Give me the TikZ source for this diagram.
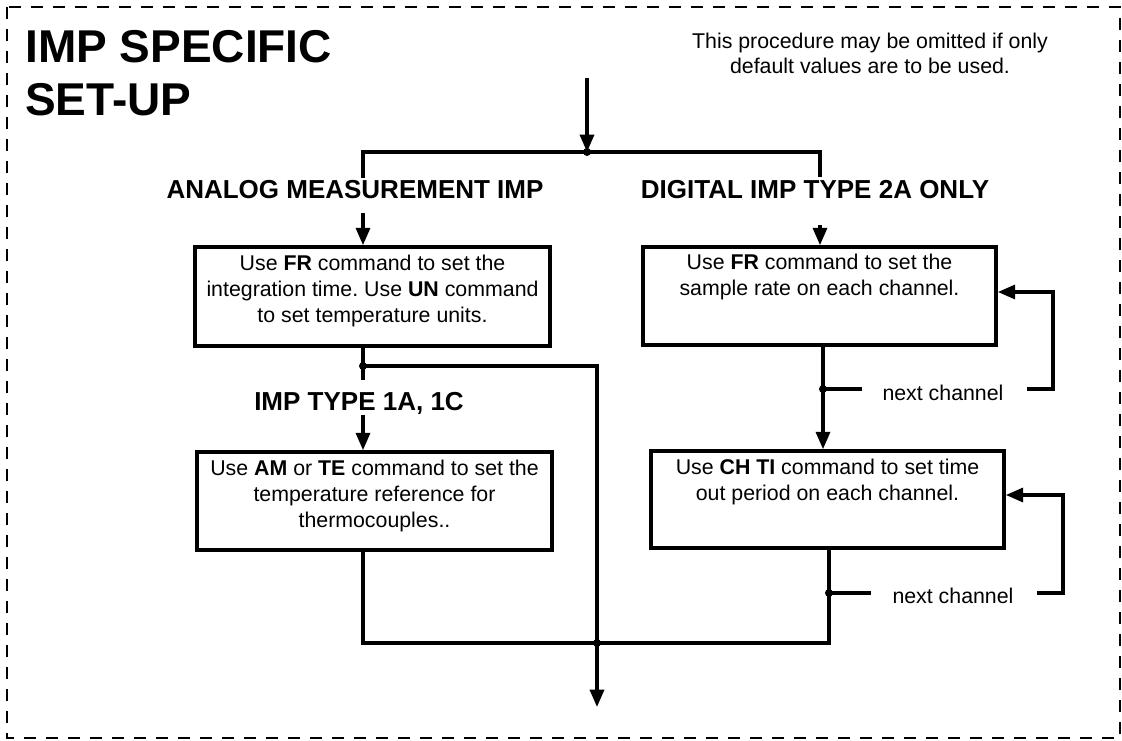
\documentclass[tikz,border=0pt]{standalone}
\usepackage{fontspec}
\setmainfont{Liberation Sans}
\usetikzlibrary{arrows.meta}
\frenchspacing
\begin{document}
\begin{tikzpicture}[x=0.75pt,y=-0.75pt,
  box/.style={draw, line width=2.7pt, inner sep=0pt},
  boxtext/.style={anchor=north, inner sep=0pt, align=center, font=\fontsize{16}{19.5}\selectfont},
  lbl/.style={anchor=base, inner sep=0pt, font=\fontsize{19.5}{23}\selectfont\bfseries},
  conn/.style={line width=2.5pt},
  arr/.style={line width=2.5pt, -{Triangle[length=13pt,width=10.5pt]}},
  dot/.style={circle, fill, inner sep=0pt, minimum size=6pt},
  nc/.style={anchor=base, inner sep=0pt, font=\fontsize{16}{19.5}\selectfont},
  border/.style={line width=2.2pt, dash pattern=on 9pt off 7.5pt}
]
\useasboundingbox (0,0) rectangle (1122,740);
\draw[border] (7,7) rectangle (1120,738);

% title and note
\node[anchor=north west, inner sep=0pt, align=left, font=\fontsize{34.5}{39.75}\selectfont\bfseries] (title) at (25,24.9) {\strut IMP SPECIFIC\\SET-UP};
\node[anchor=north, inner sep=0pt, align=center, font=\fontsize{16}{18.75}\selectfont] (note) at (870,30.5) {\strut This procedure may be omitted if only\\default values are to be used.};

% boxes
\node[box, minimum width=266.25pt, minimum height=74.25pt] (b1l) at (372.5,296.5) {};
\node[boxtext] (t1l) at (372.5,251.8) {\strut Use \textbf{FR} command to set the\\integration time. Use \textbf{UN} command\\to set temperature units.};
\node[box, minimum width=266.25pt, minimum height=73.5pt] (b2l) at (374.5,501) {};
\node[boxtext] (t2l) at (374.5,456.8) {\strut Use \textbf{AM} or \textbf{TE} command to set the\\temperature reference for\\thermocouples..};
\node[box, minimum width=264.75pt, minimum height=73.5pt] (b1r) at (819.5,296) {};
\node[boxtext] (t1r) at (819.5,251.3) {\strut Use \textbf{FR} command to set the\\sample rate on each channel.};
\node[box, minimum width=264.75pt, minimum height=72.75pt] (b2r) at (827.5,499.5) {};
\node[boxtext] (t2r) at (827.5,455.8) {\strut Use \textbf{CH TI} command to set time\\out period on each channel.};

% labels
\node[lbl] (anlbl) at (355,198) {ANALOG MEASUREMENT IMP};
\node[lbl] (diglbl) at (815,198) {DIGITAL IMP TYPE 2A ONLY};
\node[lbl] (t1lbl) at (359,410) {IMP TYPE 1A, 1C};
\node[nc] (nc1) at (943,400) {next channel};
\node[nc] (nc2) at (953,603) {next channel};

% coordinates
\coordinate (top) at (587,78);
\coordinate (j0) at (587,152);
\coordinate (lt) at (363,152);
\coordinate (rt) at (820,152);
\coordinate (la) at (363,178);
\coordinate (lb) at (363,213);
\coordinate (ra) at (820,177);
\coordinate (rb) at (820,225);
\coordinate (lc) at (363,380);
\coordinate (ld) at (363,366);
\coordinate (rd) at (597,366);
\coordinate (bj) at (597,643);
\coordinate (le) at (363,415);
\coordinate (lf) at (363,643);
\coordinate (rf) at (829,643);
\coordinate (bend) at (597,707);
\coordinate (rg) at (823,389);
\coordinate (rh) at (862,389);
\coordinate (ri) at (1027,389);
\coordinate (rj) at (1053,389);
\coordinate (rk) at (1053,292);
\coordinate (rm) at (829,593);
\coordinate (rn) at (871,593);
\coordinate (ro) at (1037,593);
\coordinate (rp) at (1063,593);
\coordinate (rq) at (1063,495);

% connectors
\draw[arr] (top) -- (j0);
\draw[conn] (la) -- (lt) -- (rt) -- (ra);
\draw[arr] (lb) -- (lb |- b1l.north);
\draw[arr] (rb) -- (rb |- b1r.north);
\draw[conn] (b1l.south -| lt) -- (lc);
\draw[conn] (ld) -- (rd) -- (bj);
\draw[arr] (le) -- (le |- b2l.north);
\draw[conn] (b2l.south -| lt) -- (lf) -- (rf) -- (rf |- b2r.south);
\draw[arr] (bj) -- (bend);
\draw[arr] (b1r.south -| rg) -- (rg |- b2r.north);
\draw[conn] (rg) -- (rh);
\draw[arr] (ri) -- (rj) -- (rk) -- (rk -| b1r.east);
\draw[conn] (rm) -- (rn);
\draw[arr] (ro) -- (rp) -- (rq) -- (rq -| b2r.east);

% junction dots
\node[dot] (d0) at (j0) {};
\node[dot] (d1) at (ld) {};
\node[dot] (d2) at (bj) {};
\node[dot] (d3) at (rg) {};
\node[dot] (d4) at (rm) {};
\end{tikzpicture}
\end{document}
